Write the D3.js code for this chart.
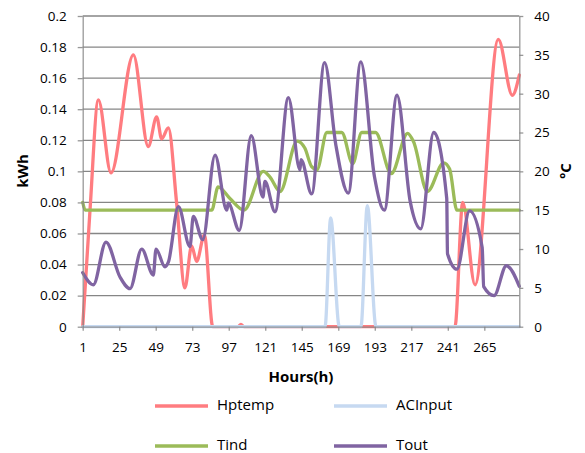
<!DOCTYPE html>
<html>
<head>
<meta charset="utf-8">
<script src="https://cdn.jsdelivr.net/npm/d3@7"></script>
<style>
    body { margin: 0; background: #fff; }
    svg { display: block; font-family: "Open Sans", sans-serif; }
</style>
</head>
<body>
<div id="chart"></div>
<script>
// data (hour, value) - kWh for the left axis, ºC for the right one
let hptempHours = [1, 5.8, 11.3, 19.6, 34.3, 44.1, 49.6, 52.9, 57.3, 62.8, 68.2, 72.6, 75.9, 81, 86.5, 103, 105, 107, 245.7, 250.8, 258.9, 274.2, 283.4, 288];
let hptempKwh = [0, 0.075, 0.146, 0.099, 0.175, 0.116, 0.135, 0.121, 0.128, 0.079, 0.025, 0.052, 0.042, 0.059, 0, 0, 0.0015, 0, 0, 0.080, 0.027, 0.185, 0.149, 0.162];

let acInputHours = [1, 160.3, 164, 169.7, 183.9, 188.1, 193.8, 288];
let acInputKwh = [0, 0, 0.070, 0, 0, 0.078, 0, 0];

let tindHours = [1, 2.7, 85.8, 90, 97.8, 107, 119.7, 124, 130.7, 142, 147, 151.5, 155, 161.5, 171.3, 178.5, 184.4, 193.5, 203.8, 214.6, 218.5, 227.6, 238.3, 242.2, 247, 288];
let tindC = [16.0, 15, 15, 18.0, 16.5, 15.0, 20.0, 19.3, 17.4, 23.9, 23.0, 20.6, 20.2, 25, 25, 21.0, 25, 25, 19.7, 24.9, 23.8, 17.4, 21.1, 20.3, 15, 15];

let toutHours = [1, 8, 16.3, 25.5, 32.1, 39.8, 47.4, 49.2, 55.1, 57.3, 63.9, 71.5, 73.7, 79.9, 88, 95.7, 96.7, 103.9, 111.8, 119.5, 120.8, 127.4, 136.2, 143.8, 144.5, 151.5, 160, 167.4, 175.6, 183.8, 192.8, 199.3, 207.6, 216.3, 223.2, 231.7, 240.3, 240.8, 247, 255.3, 263.6, 264.6, 271.4, 279.5, 288];
let toutC = [6.95, 5.4, 10.9, 6.4, 4.9, 10.0, 6.65, 10.0, 7.7, 8.3, 15.45, 10.3, 14.2, 11.2, 22.1, 15.0, 15.9, 12.4, 24.6, 16.7, 18.7, 14.8, 29.5, 20.2, 21.5, 17.1, 34.0, 23.4, 17.2, 34.1, 19.3, 15.0, 29.8, 16.1, 12.6, 25.0, 16.5, 9.4, 7.4, 14.9, 10.2, 5.15, 4.0, 7.85, 5.2];

// tick labels
let xTicks = [1, 25, 49, 73, 97, 121, 145, 169, 193, 217, 241, 265];
let kwhTicks = [0, 0.02, 0.04, 0.06, 0.08, 0.1, 0.12, 0.14, 0.16, 0.18, 0.2];
let kwhLabels = ["0", "0.02", "0.04", "0.06", "0.08", "0.1", "0.12", "0.14", "0.16", "0.18", "0.2"];
let celsiusTicks = [0, 5, 10, 15, 20, 25, 30, 35, 40];

let seriesNames = ["Hptemp", "ACInput", "Tind", "Tout"];

drawChart();

function drawChart() {
    //set svg size and plot box
    let w = 585;
    let h = 453;
    let left = 82.7, right = 519.3, top = 16, bottom = 326.7;
    let gridColor = "#868686";
    let colors = {Hptemp: "#ff7c80", ACInput: "#c6d9f1", Tind: "#9bbb59", Tout: "#8064a2"};

    let xScale = d3.scaleLinear().domain([1, 288]).range([left, right]);
    let kwhScale = d3.scaleLinear().domain([0, 0.2]).range([bottom, top]);
    let celsiusScale = d3.scaleLinear().domain([0, 40]).range([bottom, top]);

    let svg = d3.select("#chart")
                .append("svg")
                .attr("width", w)
                .attr("height", h);

    //horizontal gridlines on the kWh ticks
    svg.append("g")
        .selectAll("line")
        .data(kwhTicks.slice(1))
        .enter()
        .append("line")
        .attr("x1", left)
        .attr("x2", right)
        .attr("y1", d => kwhScale(d))
        .attr("y2", d => kwhScale(d))
        .attr("stroke", gridColor)
        .attr("stroke-width", 1.3);

    //series, each with its own axis
    let series = [
        {name: "Hptemp", xs: hptempHours, ys: hptempKwh, scale: kwhScale},
        {name: "ACInput", xs: acInputHours, ys: acInputKwh, scale: kwhScale},
        {name: "Tind", xs: tindHours, ys: tindC, scale: celsiusScale},
        {name: "Tout", xs: toutHours, ys: toutC, scale: celsiusScale}
    ];

    series.forEach(s => {
        let line = d3.line()
                    .x(d => xScale(d[0]))
                    .y(d => s.scale(d[1]))
                    .curve(d3.curveMonotoneX);
        svg.append("path")
            .datum(s.xs.map((x, i) => [x, s.ys[i]]))
            .attr("fill", "none")
            .attr("stroke", colors[s.name])
            .attr("stroke-width", 3.3)
            .attr("stroke-linejoin", "round")
            .attr("stroke-linecap", "round")
            .attr("d", line);
    });

    //axes
    let xAxis = d3.axisBottom(xScale)
                    .tickValues(xTicks)
                    .tickSize(4)
                    .tickPadding(12)
                    .tickSizeOuter(0);

    let yAxis = d3.axisLeft(kwhScale)
                    .tickValues(kwhTicks)
                    .tickFormat((d, i) => kwhLabels[i])
                    .tickSize(5)
                    .tickPadding(11)
                    .tickSizeOuter(0);

    let yAxisRight = d3.axisRight(celsiusScale)
                    .tickValues(celsiusTicks)
                    .tickSize(4)
                    .tickPadding(11)
                    .tickSizeOuter(0);

    [
        svg.append("g").attr("transform", `translate(0, ${bottom})`).call(xAxis),
        svg.append("g").attr("transform", `translate(${left}, 0)`).call(yAxis),
        svg.append("g").attr("transform", `translate(${right}, 0)`).call(yAxisRight)
    ].forEach(g => {
        g.selectAll("path, line")
            .attr("stroke", gridColor)
            .attr("stroke-width", 1.3)
            .attr("stroke-opacity", 0.85);
        g.selectAll("text")
            .attr("font-size", "13.5px")
            .attr("fill", "#000");
        g.attr("font-family", null);
    });

    //axis titles
    svg.append("text")
        .attr("transform", "translate(24, 171) rotate(-90)")
        .attr("text-anchor", "middle")
        .attr("dominant-baseline", "middle")
        .attr("font-size", "15px")
        .attr("font-weight", "bold")
        .text("kWh");

    svg.append("text")
        .attr("transform", "translate(567, 171) rotate(-90)")
        .attr("text-anchor", "middle")
        .attr("dominant-baseline", "middle")
        .attr("font-size", "15px")
        .attr("font-weight", "bold")
        .text("ºC");

    svg.append("text")
        .attr("x", (left + right) / 2)
        .attr("y", 378)
        .attr("text-anchor", "middle")
        .attr("dominant-baseline", "middle")
        .attr("font-size", "15px")
        .attr("font-weight", "bold")
        .text("Hours(h)");

    //legend, two by two
    let legend = svg.append("g")
                    .selectAll("g")
                    .data(seriesNames)
                    .enter()
                    .append("g")
                    .attr("transform", (d, i) => `translate(${i % 2 === 0 ? 155 : 334}, ${i < 2 ? 406 : 446})`);

    legend.append("line")
        .attr("x1", 0)
        .attr("x2", 53)
        .attr("stroke", d => colors[d])
        .attr("stroke-width", 3.5);

    legend.append("text")
        .attr("x", 62)
        .attr("dominant-baseline", "middle")
        .attr("font-size", "15px")
        .attr("fill", "#000")
        .text(d => d);
}
</script>
</body>
</html>
